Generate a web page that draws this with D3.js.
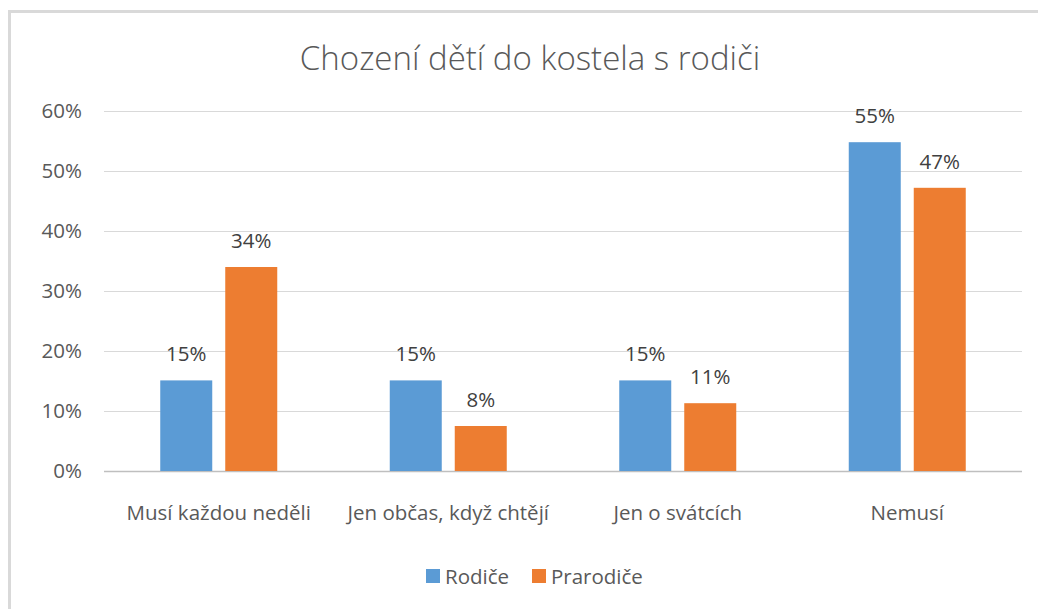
<!DOCTYPE html>
<html>
<head>
<meta charset="utf-8">
<title>Chození dětí do kostela s rodiči</title>
<script src="https://cdn.jsdelivr.net/npm/d3@7/dist/d3.min.js"></script>
<style>
    html, body {margin: 0; padding: 0; background: #fff;}
    body {overflow: hidden; font-family: "Open Sans", "Noto Sans", sans-serif;}
    svg {display: block;}
</style>
</head>
<body>
<div id="chart"></div>
<script>
// data
var categories = ["Musí každou neděli", "Jen občas, když chtějí", "Jen o svátcích", "Nemusí"];
var seriesNames = ["Rodiče", "Prarodiče"];
var rodice = [15.1, 15.1, 15.1, 54.8];
var prarodice = [34.0, 7.5, 11.3, 47.2];
var rodiceLabels = ["15%", "15%", "15%", "55%"];
var prarodiceLabels = ["34%", "8%", "11%", "47%"];
var yTicks = [0, 10, 20, 30, 40, 50, 60];
var colors = ["#5B9BD5", "#ED7D31"];

var width = 1038, height = 609;
var plot = {left: 104, right: 1022, top: 111, bottom: 471};
var textColor = "#595959";
var fs = "20.5px";

var svg = d3.select("#chart").append("svg")
    .attr("width", width)
    .attr("height", height);

// chart frame
svg.append("rect")
    .attr("x", 9.5).attr("y", 11.5)
    .attr("width", 1040).attr("height", 620)
    .attr("fill", "none")
    .attr("stroke", "#d9d9d9")
    .attr("stroke-width", 3);

svg.append("text")
    .attr("x", 530).attr("y", 70)
    .attr("text-anchor", "middle")
    .attr("fill", textColor)
    .style("font-size", "33px")
    .style("font-weight", 300)
    .text("Chození dětí do kostela s rodiči");

var y = d3.scaleLinear().domain([0, 60]).range([plot.bottom, plot.top]);
var x0 = d3.scaleBand().domain(categories).range([plot.left, plot.right]);
var x1 = d3.scaleBand().domain(seriesNames).range([0, 117]).paddingInner(0.2);

// gridlines + y labels
var yAxis = d3.axisLeft(y)
    .tickValues(yTicks)
    .tickSize(-(plot.right - plot.left))
    .tickPadding(22)
    .tickFormat(function(d) { return d + "%"; });

var ga = svg.append("g")
    .attr("transform", "translate(" + plot.left + ",0)")
    .call(yAxis);
ga.select(".domain").remove();
ga.selectAll(".tick line")
    .attr("stroke", function(d) { return d === 0 ? "#bfbfbf" : "#d9d9d9"; })
    .attr("stroke-width", function(d) { return d === 0 ? 1.5 : 1; });
ga.selectAll(".tick text")
    .attr("fill", textColor)
    .style("font-size", fs)
    .style("font-family", "'Open Sans', sans-serif");

var rows = categories.map(function(c, i) {
    return {
        cat: c,
        vals: [
            {name: seriesNames[0], v: rodice[i], label: rodiceLabels[i]},
            {name: seriesNames[1], v: prarodice[i], label: prarodiceLabels[i]}
        ]
    };
});

var groups = svg.selectAll(".grp")
    .data(rows)
  .enter().append("g")
    .attr("class", "grp")
    .attr("transform", function(d) {
        return "translate(" + (x0(d.cat) + (x0.bandwidth() - 117) / 2) + ",0)";
    });

groups.selectAll("rect")
    .data(function(d) { return d.vals; })
  .enter().append("rect")
    .attr("x", function(d) { return x1(d.name); })
    .attr("width", x1.bandwidth())
    .attr("y", function(d) { return y(d.v); })
    .attr("height", function(d) { return y(0) - y(d.v); })
    .attr("fill", function(d, i) { return colors[i]; });

groups.selectAll(".lbl")
    .data(function(d) { return d.vals; })
  .enter().append("text")
    .attr("class", "lbl")
    .attr("x", function(d) { return x1(d.name) + x1.bandwidth() / 2; })
    .attr("y", function(d) { return y(d.v) - 19; })
    .attr("text-anchor", "middle")
    .attr("fill", "#404040")
    .style("font-size", fs)
    .text(function(d) { return d.label; });

// category labels
svg.selectAll(".cat")
    .data(categories)
  .enter().append("text")
    .attr("class", "cat")
    .attr("x", function(d) { return x0(d) + x0.bandwidth() / 2; })
    .attr("y", 520)
    .attr("text-anchor", "middle")
    .attr("fill", textColor)
    .style("font-size", fs)
    .text(function(d) { return d; });

// legend
var legendX = [426, 532];
var leg = svg.selectAll(".leg")
    .data(seriesNames)
  .enter().append("g")
    .attr("class", "leg")
    .attr("transform", function(d, i) { return "translate(" + legendX[i] + ",569)"; });
leg.append("rect")
    .attr("width", 14).attr("height", 14)
    .attr("fill", function(d, i) { return colors[i]; });
leg.append("text")
    .attr("x", 19).attr("y", 14.5)
    .attr("fill", textColor)
    .style("font-size", fs)
    .text(function(d) { return d; });
</script>
</body>
</html>
